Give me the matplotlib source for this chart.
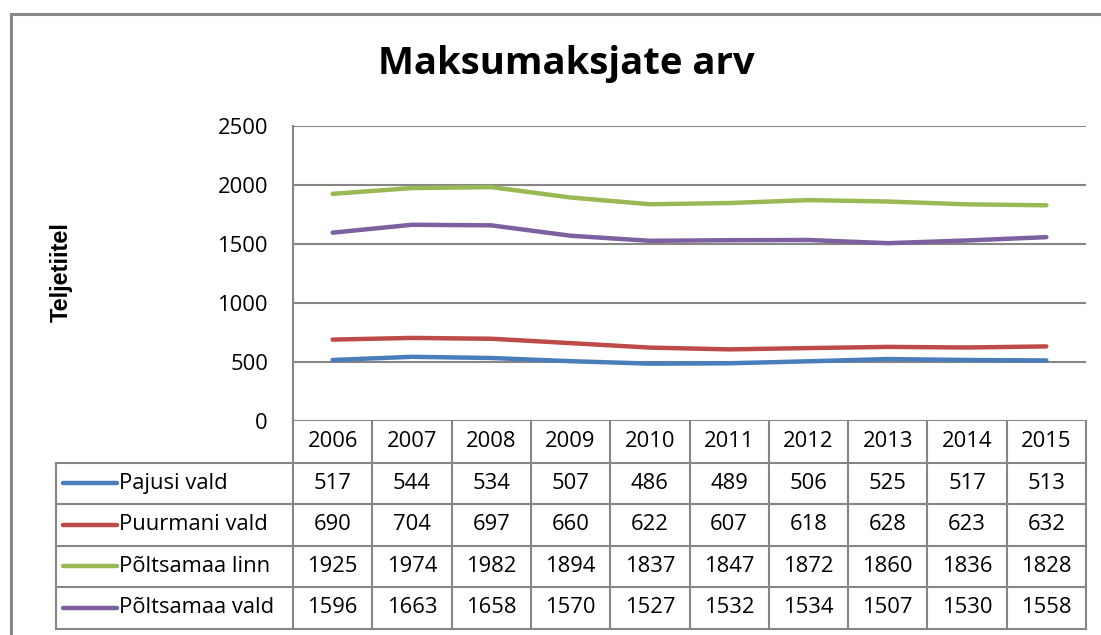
import matplotlib
matplotlib.use("Agg")
import matplotlib.pyplot as plt
import matplotlib.transforms as mtransforms
from matplotlib.lines import Line2D

years = ["2006", "2007", "2008", "2009", "2010", "2011", "2012", "2013", "2014", "2015"]
series_names = ["Pajusi vald", "Puurmani vald", "Põltsamaa linn", "Põltsamaa vald"]
pajusi = [517, 544, 534, 507, 486, 489, 506, 525, 517, 513]
puurmani = [690, 704, 697, 660, 622, 607, 618, 628, 623, 632]
poltsamaa_linn = [1925, 1974, 1982, 1894, 1837, 1847, 1872, 1860, 1836, 1828]
poltsamaa_vald = [1596, 1663, 1658, 1570, 1527, 1532, 1534, 1507, 1530, 1558]
y_ticks = [0, 500, 1000, 1500, 2000, 2500]
title = "Maksumaksjate arv"
y_label = "Teljetiitel"

colors = ["#4A7EBB", "#BE4B48", "#98B954", "#7D60A0"]
all_series = [pajusi, puurmani, poltsamaa_linn, poltsamaa_vald]

W, H = 1101, 635
fig = plt.figure(figsize=(W / 100, H / 100), dpi=100)
fig.patch.set_facecolor("white")

FONT = ["Open Sans", "DejaVu Sans"]
FS = 15.8
grid_c = "#868686"

# plot area in pixels
L, R, T, B = 293, 1086, 126, 421
ax = fig.add_axes([L / W, 1 - B / H, (R - L) / W, (B - T) / H])
ax.set_xlim(-0.5, len(years) - 0.5)
ax.set_ylim(0, 2500)
ax.set_yticks(y_ticks)
ax.set_yticklabels([str(v) for v in y_ticks], fontfamily=FONT, fontsize=FS)
ax.tick_params(axis="y", length=0, pad=18)
ax.set_xticks([])
for s in ["top", "right", "bottom"]:
    ax.spines[s].set_visible(False)
ax.spines["left"].set_color(grid_c)
ax.spines["left"].set_linewidth(1.5)
for v in y_ticks:
    ax.axhline(v, color=grid_c, lw=1.5, zorder=1)

x = list(range(len(years)))
for vals, c in zip(all_series, colors):
    ax.plot(x, vals, color=c, lw=3.2, solid_capstyle="round", zorder=3)

# data table below the plot
px_per_unit = (R - L) / len(years)
row_h = 41.5 / (B - T)  # in axes fraction
trans = mtransforms.blended_transform_factory(ax.transData, ax.transAxes)
left_x = -0.5 - (L - 56) / px_per_unit
right_x = len(years) - 0.5
nrows = len(all_series)

def hline(x0, x1, y, lw=1.5):
    ax.add_line(Line2D([x0, x1], [y, y], transform=trans, color=grid_c, lw=lw, clip_on=False))

def vline(xv, y0, y1, lw=1.5):
    ax.add_line(Line2D([xv, xv], [y0, y1], transform=trans, color=grid_c, lw=lw, clip_on=False))

bottom_y = -row_h * (nrows + 1)
for i in range(len(years) + 1):
    vline(i - 0.5, 0, bottom_y)
vline(left_x, -row_h, bottom_y)
for r in range(1, nrows + 2):
    hline(left_x, right_x, -row_h * r)

for i, yr in enumerate(years):
    ax.text(i, -row_h * 0.5, yr, transform=trans, ha="center", va="center",
            fontfamily=FONT, fontsize=FS, clip_on=False)

for r, (name, vals, c) in enumerate(zip(series_names, all_series, colors)):
    yc = -row_h * (r + 1.5)
    ax.add_line(Line2D([left_x + 0.09, left_x + 0.77], [yc, yc], transform=trans,
                       color=c, lw=3.2, clip_on=False, solid_capstyle="round"))
    ax.text(left_x + 0.8, yc, name, transform=trans, ha="left", va="center",
            fontfamily=FONT, fontsize=FS, clip_on=False)
    for i, v in enumerate(vals):
        ax.text(i, yc, str(v), transform=trans, ha="center", va="center",
                fontfamily=FONT, fontsize=FS, clip_on=False)

# title and y label
fig.text(566 / W, 1 - 64 / H, title, ha="center", va="center",
         fontfamily=FONT, fontweight="bold", fontsize=27.5)
fig.text(61 / W, 1 - 272 / H, y_label, ha="center", va="center", rotation=90,
         fontfamily=["Liberation Sans", "DejaVu Sans"], fontweight="bold", fontsize=17)

# outer chart border (left and top edges visible)
fig.add_artist(Line2D([11 / W, 11 / W], [0, 1 - 14 / H], transform=fig.transFigure,
                      color=grid_c, lw=2.2))
fig.add_artist(Line2D([11 / W, 1], [1 - 14 / H, 1 - 14 / H], transform=fig.transFigure,
                      color=grid_c, lw=2.2))

fig.savefig("out.png", dpi=100, facecolor="white")
